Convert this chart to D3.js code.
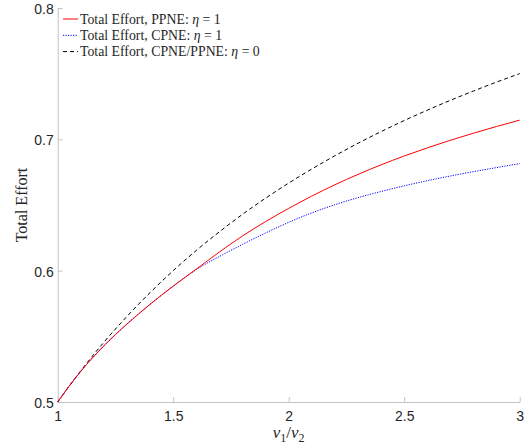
<!DOCTYPE html>
<html>
<head>
<meta charset="utf-8">
<script src="https://cdn.jsdelivr.net/npm/d3@7"></script>
<style>
  body { margin: 0; background: #fff; }
  #chart { width: 529px; height: 446px; }
  .tick text { font-family: "Liberation Sans", Arial, sans-serif; font-size: 14px; fill: #262626; }
  .lbl { font-family: "Liberation Serif", "DejaVu Serif", serif; fill: #262626; }
</style>
</head>
<body>
<div id="chart"></div>
<script>
// ratio v1/v2
var ratios = [1.0, 1.05, 1.1, 1.15, 1.2, 1.3, 1.4, 1.5, 1.6, 1.7, 1.8, 1.9, 2.0, 2.1, 2.2, 2.3, 2.4, 2.5, 2.6, 2.7, 2.8, 2.9, 3.0];
var ppneEta1 = [0.5, 0.5121, 0.5234, 0.5335, 0.5428, 0.5594, 0.5744, 0.5882, 0.6012, 0.6142, 0.6264, 0.6374, 0.6474, 0.6568, 0.6654, 0.6733, 0.6806, 0.6873, 0.6935, 0.6993, 0.7047, 0.7098, 0.7146];
var cpneEta1 = [0.5, 0.5121, 0.5234, 0.5335, 0.5428, 0.5594, 0.5744, 0.5882, 0.6008, 0.6108, 0.62, 0.6287, 0.6368, 0.644, 0.6502, 0.6556, 0.6603, 0.6646, 0.6685, 0.6721, 0.6754, 0.6785, 0.6815];
var bothEta0 = [0.5, 0.5122, 0.5238, 0.5349, 0.5455, 0.5652, 0.5833, 0.6, 0.6154, 0.6296, 0.6429, 0.6552, 0.6667, 0.6774, 0.6875, 0.697, 0.7059, 0.7143, 0.7222, 0.7297, 0.7368, 0.7436, 0.75];
var xTicks = [1, 1.5, 2, 2.5, 3];
var yTicks = [0.5, 0.6, 0.7, 0.8];

var series = [
  {name: 'Total Effort, PPNE: ', eta: '1', values: ppneEta1, color: '#ff0000', dash: null},
  {name: 'Total Effort, CPNE: ', eta: '1', values: cpneEta1, color: '#0000ff', dash: '1.2,1.3'},
  {name: 'Total Effort, CPNE/PPNE: ', eta: '0', values: bothEta0, color: '#000000', dash: '4,3'}
];

(function() {
  var width = 529, height = 446;
  var mLeft = 57.7, mRight = 519.7, mTop = 8, mBottom = 402;

  var svg = d3.select('#chart').append('svg')
    .attr('width', width)
    .attr('height', height);

  var x = d3.scaleLinear().domain([1, 3]).range([mLeft, mRight]);
  var y = d3.scaleLinear().domain([0.5, 0.8]).range([mBottom, mTop]);

  var axisColor = '#c4c4c4';

  var xAxis = svg.append('g')
    .attr('transform', 'translate(0,' + mBottom + ')')
    .call(d3.axisBottom(x).tickValues(xTicks).tickFormat(d3.format('')).tickSizeInner(-5).tickSizeOuter(0).tickPadding(9));
  xAxis.select('.domain').attr('stroke', axisColor);
  xAxis.selectAll('.tick line').attr('stroke', axisColor);

  var yAxis = svg.append('g')
    .attr('transform', 'translate(' + mLeft + ',0)')
    .call(d3.axisLeft(y).tickValues(yTicks).tickFormat(d3.format('.1f')).tickSizeInner(-5).tickSizeOuter(0).tickPadding(4));
  yAxis.select('.domain').attr('stroke', axisColor);
  yAxis.selectAll('.tick line').attr('stroke', axisColor);
  yAxis.selectAll('.tick text').attr('dy', '0.4em');

  var line = d3.line()
    .x(function(d, i) { return x(ratios[i]); })
    .y(function(d) { return y(d); })
    .curve(d3.curveMonotoneX);

  // dashed first, solid red on top
  [2, 1, 0].forEach(function(k) {
    var s = series[k];
    svg.append('path')
      .attr('d', line(s.values))
      .attr('fill', 'none')
      .attr('stroke', s.color)
      .attr('stroke-width', 1)
      .attr('stroke-dasharray', s.dash);
  });

  // legend
  var legend = svg.append('g');
  series.forEach(function(s, i) {
    var ly = 19 + i * 16.3;
    legend.append('line')
      .attr('x1', 63).attr('x2', 78)
      .attr('y1', ly).attr('y2', ly)
      .attr('stroke', s.color)
      .attr('stroke-width', 1)
      .attr('stroke-dasharray', s.dash);
    var t = legend.append('text')
      .attr('class', 'lbl')
      .attr('x', 80)
      .attr('y', ly + 4.5)
      .style('font-size', '13.8px');
    t.append('tspan').text(s.name);
    t.append('tspan').style('font-style', 'italic').text('\u03B7');
    t.append('tspan').text(' = ' + s.eta);
  });

  // axis labels
  svg.append('text')
    .attr('class', 'lbl')
    .attr('transform', 'translate(27,' + ((mTop + mBottom) / 2) + ') rotate(-90)')
    .attr('text-anchor', 'middle')
    .style('font-size', '16px')
    .text('Total Effort');

  var xl = svg.append('text')
    .attr('class', 'lbl')
    .attr('x', (mLeft + mRight) / 2)
    .attr('y', 438)
    .attr('text-anchor', 'middle')
    .style('font-size', '17px');
  xl.append('tspan').style('font-style', 'italic').text('v');
  xl.append('tspan').attr('dy', 4).style('font-size', '12px').text('1');
  xl.append('tspan').attr('dy', -4).text('/');
  xl.append('tspan').style('font-style', 'italic').text('v');
  xl.append('tspan').attr('dy', 4).style('font-size', '12px').text('2');
})();
</script>
</body>
</html>
